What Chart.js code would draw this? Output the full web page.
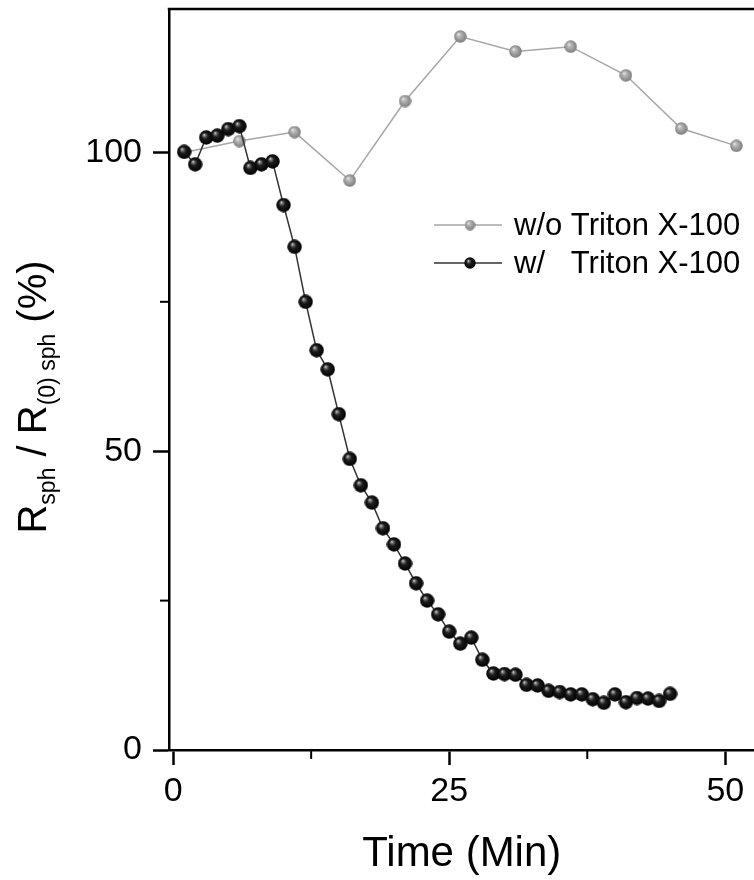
<!DOCTYPE html>
<html>
<head>
<meta charset="utf-8">
<title>Rsph / R(0)sph vs time</title>
<script src="https://cdn.jsdelivr.net/npm/chart.js@4.4.0/dist/chart.umd.min.js"></script>
<style>
  html, body { margin: 0; padding: 0; background: #fff; overflow: hidden; width: 754px; height: 880px; }
  /* the plot frame runs past the right edge of the picture, so the canvas is a little wider */
  #wrap { position: relative; width: 760px; height: 880px; }
</style>
</head>
<body>
<div id="wrap"><canvas id="chart"></canvas></div>
<script>
/* ---- data ---- */
// w/o Triton X-100 (grey), one reading every 5 min
const timeWithout = [1, 6, 11, 16, 21, 26, 31, 36, 41, 46, 51];
const ratioWithout = [100.0, 101.9, 103.4, 95.3, 108.6, 119.4, 116.9, 117.7, 112.9, 104.0, 101.1];

// w/ Triton X-100 (black), one reading per minute
const timeWith = [1, 2, 3, 4, 5, 6, 7, 8, 9, 10, 11, 12, 13, 14, 15, 16, 17, 18, 19, 20, 21, 22, 23,
  24, 25, 26, 27, 28, 29, 30, 31, 32, 33, 34, 35, 36, 37, 38, 39, 40, 41, 42, 43, 44, 45];
const ratioWith = [100.1, 98.0, 102.5, 102.8, 103.9, 104.4, 97.4, 98.0, 98.5, 91.2, 84.2, 75.0, 66.9,
  63.7, 56.2, 48.7, 44.3, 41.4, 37.1, 34.4, 31.2, 27.9, 25.0, 22.7, 19.8, 17.8, 18.8, 15.1, 12.8,
  12.7, 12.6, 10.9, 10.8, 9.9, 9.7, 9.3, 9.3, 8.5, 7.9, 9.3, 8.0, 8.7, 8.6, 8.2, 9.4];

const xMajorTicks = [0, 25, 50];
const xMinorTicks = [12.5, 37.5];
const yMajorTicks = [0, 50, 100];
const yMinorTicks = [25, 75];

const seriesLabels = ['w/o Triton X-100', 'w/   Triton X-100'];

const FONT = "'Liberation Sans', Arial, sans-serif";

/* ---- shaded ball markers ---- */
function makeSphere(d, stops) {
  const c = document.createElement('canvas');
  c.width = c.height = d;
  const g = c.getContext('2d');
  const r = d / 2;
  const grad = g.createRadialGradient(r * 0.68, r * 0.62, 0, r, r, r);
  stops.forEach(([o, col]) => grad.addColorStop(o, col));
  g.fillStyle = grad;
  g.beginPath();
  g.arc(r, r, r - 0.3, 0, Math.PI * 2);
  g.fill();
  return c;
}

const blackStops = [[0, '#f2f2f2'], [0.16, '#7c7c7c'], [0.42, '#1c1c1c'], [1, '#000']];
const greyStops = [[0, '#f0f0f0'], [0.3, '#b8b8b8'], [0.75, '#909090'], [1, '#767676']];

const blackBall = makeSphere(15, blackStops);
const greyBall = makeSphere(13, greyStops);
const blackBallSmall = makeSphere(12, blackStops);
const greyBallSmall = makeSphere(11, greyStops);

const toPoints = (xs, ys) => xs.map((x, i) => ({ x, y: ys[i] }));

/* ---- extra drawing: top frame, minor ticks, y title, legend ---- */
const extras = {
  id: 'extras',
  afterDraw(chart) {
    const { ctx, chartArea: a, scales: { x, y } } = chart;
    ctx.save();
    ctx.strokeStyle = '#000';
    ctx.lineWidth = 2.5;

    // top edge of the frame
    ctx.beginPath();
    ctx.moveTo(a.left - 1.25, a.top);
    ctx.lineTo(chart.width, a.top);
    ctx.stroke();

    // minor ticks
    ctx.lineWidth = 2;
    xMinorTicks.forEach(v => {
      const px = x.getPixelForValue(v);
      ctx.beginPath();
      ctx.moveTo(px, a.bottom);
      ctx.lineTo(px, a.bottom + 9);
      ctx.stroke();
    });
    yMinorTicks.forEach(v => {
      const py = y.getPixelForValue(v);
      ctx.beginPath();
      ctx.moveTo(a.left, py);
      ctx.lineTo(a.left - 9, py);
      ctx.stroke();
    });

    // y title with subscripts
    const parts = [
      { t: 'R', sub: false },
      { t: 'sph', sub: true },
      { t: ' / ', sub: false },
      { t: 'R', sub: false },
      { t: '(0) sph', sub: true },
      { t: ' (%)', sub: false }
    ];
    const mainFont = '40px ' + FONT;
    const subFont = '23px ' + FONT;
    let total = 0;
    parts.forEach(p => {
      ctx.font = p.sub ? subFont : mainFont;
      p.w = ctx.measureText(p.t).width;
      total += p.w;
    });
    ctx.translate(46, 397);
    ctx.rotate(-Math.PI / 2);
    ctx.fillStyle = '#000';
    ctx.textBaseline = 'alphabetic';
    let cx = -total / 2;
    parts.forEach(p => {
      ctx.font = p.sub ? subFont : mainFont;
      ctx.fillText(p.t, cx, p.sub ? 9 : 0);
      cx += p.w;
    });
    ctx.restore();

    // legend
    ctx.save();
    const rows = [
      { label: seriesLabels[0], color: '#a6a6a6', ball: greyBallSmall, y: 225 },
      { label: seriesLabels[1], color: '#333333', ball: blackBallSmall, y: 263 }
    ];
    ctx.font = '31px ' + FONT;
    ctx.textBaseline = 'middle';
    ctx.fillStyle = '#000';
    rows.forEach(r => {
      ctx.strokeStyle = r.color;
      ctx.lineWidth = 1.5;
      ctx.beginPath();
      ctx.moveTo(434, r.y);
      ctx.lineTo(502, r.y);
      ctx.stroke();
      ctx.drawImage(r.ball, 470 - r.ball.width / 2, r.y - r.ball.height / 2);
      ctx.fillText(r.label, 514, r.y + 1);
    });
    ctx.restore();
  }
};

/* ---- chart ---- */
document.addEventListener('DOMContentLoaded', () => {
  const ctx = document.getElementById('chart').getContext('2d');
  new Chart(ctx, {
    type: 'line',
    data: {
      datasets: [
        {
          label: seriesLabels[0],
          data: toPoints(timeWithout, ratioWithout),
          borderColor: '#a6a6a6',
          borderWidth: 1.5,
          pointStyle: greyBall,
          order: 1
        },
        {
          label: seriesLabels[1],
          data: toPoints(timeWith, ratioWith),
          borderColor: '#333333',
          borderWidth: 1.5,
          pointStyle: blackBall,
          order: 0
        }
      ]
    },
    options: {
      responsive: true,
      maintainAspectRatio: false,
      animation: false,
      layout: { padding: { top: 9, right: 0, bottom: 0, left: 0 } },
      plugins: {
        legend: { display: false },
        tooltip: { enabled: false }
      },
      elements: { line: { tension: 0 } },
      scales: {
        x: {
          type: 'linear',
          min: -0.37,
          max: 52.64,
          afterBuildTicks: s => { s.ticks = xMajorTicks.map(v => ({ value: v })); },
          afterFit: s => { s.height = 130; s.paddingLeft = 0; s.paddingRight = 0; },
          grid: {
            display: true,
            drawOnChartArea: false,
            drawTicks: true,
            tickLength: 15,
            tickWidth: 2.5,
            tickColor: '#000'
          },
          border: { display: true, color: '#000', width: 2.5 },
          ticks: {
            color: '#000',
            font: { family: FONT, size: 34 },
            padding: 6,
            maxRotation: 0
          },
          title: {
            display: true,
            text: 'Time (Min)',
            color: '#000',
            font: { family: FONT, size: 42 },
            padding: { top: 0, bottom: 0 }
          }
        },
        y: {
          type: 'linear',
          min: 0,
          max: 124,
          afterBuildTicks: s => { s.ticks = yMajorTicks.map(v => ({ value: v })); },
          afterFit: s => { s.width = 169; s.paddingTop = 0; s.paddingBottom = 0; },
          grid: {
            display: true,
            drawOnChartArea: false,
            drawTicks: true,
            tickLength: 16,
            tickWidth: 2.5,
            tickColor: '#000'
          },
          border: { display: true, color: '#000', width: 2.5 },
          ticks: {
            color: '#000',
            font: { family: FONT, size: 34 },
            padding: 11
          }
        }
      }
    },
    plugins: [extras]
  });
});
</script>
</body>
</html>
